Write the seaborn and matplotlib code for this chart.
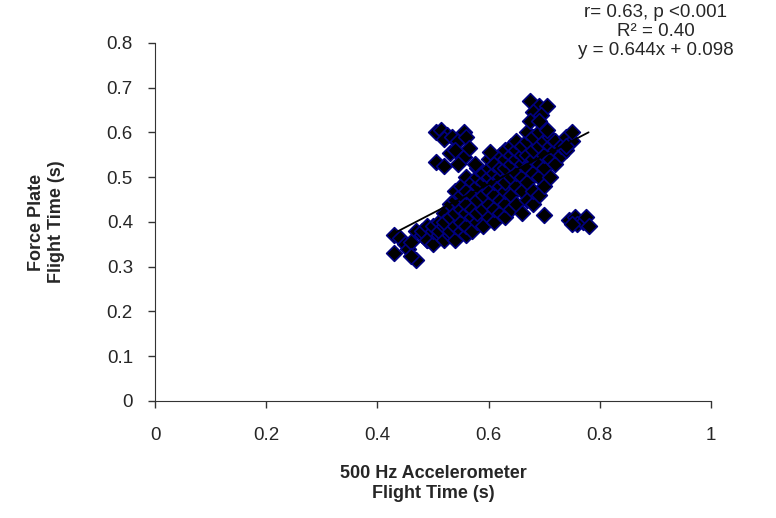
import numpy as np
import pandas as pd
import matplotlib
matplotlib.use("Agg")
import matplotlib.pyplot as plt
import seaborn as sns

# accelerometer flight time (s)
accel = [
    # main band
    0.47, 0.48, 0.48, 0.49, 0.49, 0.49, 0.50, 0.50, 0.50, 0.51, 0.51, 0.51,
    0.52, 0.52, 0.52, 0.52, 0.53, 0.53, 0.53, 0.53, 0.54, 0.54, 0.54, 0.54, 0.54,
    0.55, 0.55, 0.55, 0.55, 0.55, 0.56, 0.56, 0.56, 0.56, 0.56, 0.56,
    0.57, 0.57, 0.57, 0.57, 0.57, 0.58, 0.58, 0.58, 0.58, 0.58, 0.58,
    0.59, 0.59, 0.59, 0.59, 0.59, 0.60, 0.60, 0.60, 0.60, 0.60, 0.60,
    0.61, 0.61, 0.61, 0.61, 0.61, 0.61, 0.62, 0.62, 0.62, 0.62, 0.62, 0.62,
    0.63, 0.63, 0.63, 0.63, 0.63, 0.63, 0.63, 0.64, 0.64, 0.64, 0.64, 0.64, 0.64,
    0.65, 0.65, 0.65, 0.65, 0.65, 0.65, 0.66, 0.66, 0.66, 0.66, 0.66, 0.66,
    0.67, 0.67, 0.67, 0.67, 0.67, 0.67, 0.68, 0.68, 0.68, 0.68, 0.68, 0.68,
    0.69, 0.69, 0.69, 0.69, 0.69, 0.70, 0.70, 0.70, 0.70,
    0.71, 0.71, 0.71, 0.71, 0.72, 0.72, 0.72, 0.73, 0.73, 0.74, 0.74, 0.75, 0.75,
    # upper left group
    0.505, 0.515, 0.525, 0.520, 0.535, 0.545, 0.555, 0.560,
    0.505, 0.520, 0.530, 0.540, 0.555, 0.565, 0.545, 0.575,
    # top group
    0.675, 0.690, 0.705, 0.680, 0.695, 0.675, 0.690, 0.705,
    # right group
    0.745, 0.755, 0.760, 0.770, 0.775, 0.780, 0.750,
    # lower left group
    0.430, 0.440, 0.430, 0.450, 0.455, 0.460, 0.470, 0.460,
    # loose ones
    0.603, 0.700, 0.740,
]

# force plate flight time (s)
plate = [
    0.38, 0.37, 0.38, 0.36, 0.39, 0.36, 0.35, 0.38, 0.39, 0.37, 0.40, 0.38,
    0.36, 0.39, 0.42, 0.40, 0.37, 0.38, 0.41, 0.44, 0.36, 0.39, 0.42, 0.45, 0.47,
    0.38, 0.40, 0.43, 0.46, 0.48, 0.37, 0.39, 0.42, 0.44, 0.47, 0.50,
    0.38, 0.41, 0.43, 0.46, 0.49, 0.40, 0.42, 0.45, 0.48, 0.50, 0.52,
    0.39, 0.43, 0.46, 0.49, 0.51, 0.41, 0.44, 0.47, 0.50, 0.52, 0.54,
    0.40, 0.43, 0.46, 0.49, 0.51, 0.53, 0.42, 0.45, 0.48, 0.50, 0.52, 0.55,
    0.41, 0.44, 0.47, 0.49, 0.52, 0.54, 0.56, 0.43, 0.46, 0.50, 0.53, 0.55, 0.57,
    0.44, 0.48, 0.51, 0.54, 0.56, 0.58, 0.42, 0.47, 0.50, 0.53, 0.55, 0.57,
    0.45, 0.49, 0.52, 0.55, 0.58, 0.60, 0.44, 0.47, 0.51, 0.54, 0.56, 0.59,
    0.46, 0.50, 0.53, 0.57, 0.60, 0.48, 0.52, 0.55, 0.58,
    0.50, 0.54, 0.57, 0.59, 0.53, 0.56, 0.58, 0.55, 0.57, 0.56, 0.59, 0.58, 0.60,
    0.600, 0.605, 0.595, 0.585, 0.590, 0.580, 0.600, 0.590,
    0.535, 0.525, 0.555, 0.560, 0.545, 0.565, 0.530, 0.530,
    0.670, 0.660, 0.660, 0.645, 0.640, 0.625, 0.625, 0.605,
    0.405, 0.410, 0.395, 0.400, 0.410, 0.392, 0.395,
    0.370, 0.365, 0.330, 0.350, 0.340, 0.355, 0.315, 0.325,
    0.557, 0.415, 0.570,
]

slope = 0.644
intercept = 0.098
stats_text = "r= 0.63, p <0.001\nR\u00b2 = 0.40\ny = 0.644x + 0.098"

df = pd.DataFrame({"accel": accel, "plate": plate})

sns.set_style("ticks")
plt.rcParams["font.family"] = ["Liberation Sans", "DejaVu Sans"]

fig = plt.figure(figsize=(7.76, 5.18), dpi=100)
ax = fig.add_axes([0.2, 0.226, 0.716, 0.691])

sns.scatterplot(data=df, x="accel", y="plate", marker="D", s=64,
                color="black", edgecolor="#000080", linewidth=1.2, ax=ax,
                zorder=2)

# trendline over the data range
xs = np.array([df["accel"].min(), df["accel"].max()])
ax.plot(xs, slope * xs + intercept, color="black", lw=1.3, zorder=3)

ax.set_xlim(0, 1)
ax.set_ylim(0, 0.8)
ax.set_xticks(np.arange(0, 1.01, 0.2))
ax.set_yticks(np.arange(0, 0.81, 0.1))
ax.set_xticklabels(["0", "0.2", "0.4", "0.6", "0.8", "1"])
ax.set_yticklabels(["0", "0.1", "0.2", "0.3", "0.4", "0.5", "0.6", "0.7", "0.8"])
ax.tick_params(labelsize=13.5, length=5, width=1, color="#333333")
ax.tick_params(axis="x", pad=14)
ax.tick_params(axis="y", pad=11)
for sp in ["left", "bottom"]:
    ax.spines[sp].set_color("#333333")
sns.despine(ax=ax)

ax.set_xlabel("500 Hz Accelerometer\nFlight Time (s)", fontsize=13,
              fontweight="bold", labelpad=15, linespacing=1.2)
ax.set_ylabel("Force Plate\nFlight Time (s)", fontsize=13,
              fontweight="bold", labelpad=30, linespacing=1.2)

fig.text(0.845, 0.993, stats_text, ha="center", va="top", fontsize=13.5,
         linespacing=1.15)

fig.savefig("out.png", dpi=100)
